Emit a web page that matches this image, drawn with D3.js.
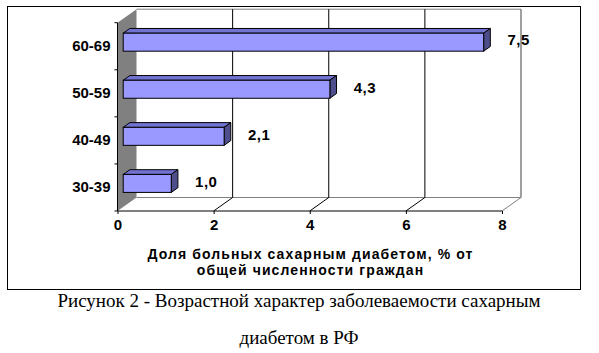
<!DOCTYPE html>
<html>
<head>
<meta charset="utf-8">
<script src="https://cdn.jsdelivr.net/npm/d3@7"></script>
<style>
    body { margin: 0; background: #fff; }
    svg text { font-family: "Liberation Sans", Arial, sans-serif; }
    .caption { font-family: "Liberation Serif", "Times New Roman", serif; }
</style>
</head>
<body>
<svg id="chart" width="599" height="353"></svg>
<script>
// age groups, bottom to top
let categories = ["30-39", "40-49", "50-59", "60-69"];
let values = [1.0, 2.1, 4.3, 7.5];
let valueLabels = ["1,0", "2,1", "4,3", "7,5"];
let xTicks = [0, 2, 4, 6, 8];
let axisTitle = ["Доля больных сахарным диабетом, % от", "общей численности граждан"];
let caption = ["Рисунок 2 - Возрастной характер заболеваемости сахарным", "диабетом в РФ"];

let svg = d3.select("#chart");

// 3d depth of the plot box
let depth = {dx: 19, dy: -13.5};
let barFront = 0.3, barDepth = 0.35, barH = 18;

let plotTop = 22.7, plotBottom = 211;
let x = d3.scaleLinear().domain([0, 8]).range([117.5, 502]);
let y = d3.scaleBand().domain(categories).range([plotBottom, plotTop]);

// outer frame
svg.append("rect").attr("x", 7.5).attr("y", 6.5).attr("width", 573).attr("height", 283)
    .attr("fill", "#fff").attr("stroke", "#000").attr("stroke-width", 1);

let bx = v => x(v) + depth.dx;
let backTop = plotTop + depth.dy, backBottom = plotBottom + depth.dy;

// left side wall
svg.append("polygon")
    .attr("points", [[x(0), plotTop], [bx(0), backTop], [bx(0), backBottom], [x(0), plotBottom]].join(" "))
    .attr("fill", "#808080").attr("stroke", "none");

// back wall edges
svg.append("path")
    .attr("d", `M${bx(0)},${backTop}H${bx(8)}V${backBottom}H${bx(0)}`)
    .attr("fill", "none").attr("stroke", "#808080").attr("stroke-width", 1);

// gridlines on back wall and floor
xTicks.filter(t => t > 0).forEach(t => {
    let col = t === 8 ? "#808080" : "#000";
    svg.append("line").attr("x1", bx(t)).attr("x2", bx(t)).attr("y1", backTop).attr("y2", backBottom)
        .attr("stroke", col).attr("stroke-width", 1);
    svg.append("line").attr("x1", x(t)).attr("y1", plotBottom).attr("x2", bx(t)).attr("y2", backBottom)
        .attr("stroke", col).attr("stroke-width", 1);
});

// bars
let ox = depth.dx * barFront, oy = depth.dy * barFront;
let ddx = depth.dx * barDepth, ddy = depth.dy * barDepth;
let bars = svg.append("g").selectAll("g").data(categories).join("g");
bars.each(function(c, i) {
    let g = d3.select(this);
    let cy = y(c) + y.bandwidth() / 2 + oy;
    let x0 = x(0) + ox, x1 = x(values[i]) + ox;
    let y0 = cy - barH / 2, y1 = cy + barH / 2;
    g.append("polygon")
        .attr("points", [[x0, y0], [x0 + ddx, y0 + ddy], [x1 + ddx, y0 + ddy], [x1, y0]].join(" "))
        .attr("fill", "#7272d2").attr("stroke", "#000").attr("stroke-width", 1);
    g.append("polygon")
        .attr("points", [[x1, y0], [x1 + ddx, y0 + ddy], [x1 + ddx, y1 + ddy], [x1, y1]].join(" "))
        .attr("fill", "#4e4e8c").attr("stroke", "#000").attr("stroke-width", 1);
    g.append("rect").attr("x", x0).attr("y", y0).attr("width", x1 - x0).attr("height", barH)
        .attr("fill", "#9999ff").attr("stroke", "#000").attr("stroke-width", 1);
    g.append("text").attr("x", x1 + 35).attr("y", cy - 2).attr("dy", "0.35em")
        .attr("text-anchor", "middle").attr("font-size", 15).attr("font-weight", "bold")
        .attr("letter-spacing", 0.5)
        .text(valueLabels[i]);
});

// axes
let xAxis = d3.axisBottom(x).tickValues(xTicks).tickSize(3).tickFormat(d3.format("d"));
let gx = svg.append("g").attr("transform", `translate(0,${plotBottom})`).call(xAxis);
gx.select(".domain").attr("d", `M${x(0)},0H${x(8)}`);
gx.selectAll("text").attr("font-size", 15).attr("font-weight", "bold").attr("y", 8)
    .attr("font-family", "Liberation Sans, Arial, sans-serif");

let yAxis = d3.axisLeft(y).tickSize(0);
let gy = svg.append("g").attr("transform", `translate(${x(0)},0)`).call(yAxis);
gy.select(".domain").attr("d", `M0,${plotTop}V${plotBottom}`);
gy.selectAll("text").attr("font-size", 15).attr("font-weight", "bold").attr("x", -7)
    .attr("font-family", "Liberation Sans, Arial, sans-serif");
// category boundary ticks
let bounds = categories.map(c => y(c)).concat([plotBottom]);
svg.append("g").selectAll("line").data(bounds).join("line")
    .attr("x1", x(0) - 3).attr("x2", x(0)).attr("y1", d => d).attr("y2", d => d)
    .attr("stroke", "#000");

// axis title
svg.append("g").selectAll("text").data(axisTitle).join("text")
    .attr("x", 310.5).attr("y", (d, i) => 254 + i * 16).attr("dy", "0.35em")
    .attr("text-anchor", "middle").attr("font-size", 14).attr("font-weight", "bold")
    .attr("letter-spacing", 1.1)
    .text(d => d);

// figure caption
svg.append("g").selectAll("text").data(caption).join("text")
    .attr("class", "caption")
    .attr("x", 299).attr("y", (d, i) => 306.5 + i * 37.5)
    .attr("text-anchor", "middle").attr("font-size", 19)
    .text(d => d);
</script>
</body>
</html>
